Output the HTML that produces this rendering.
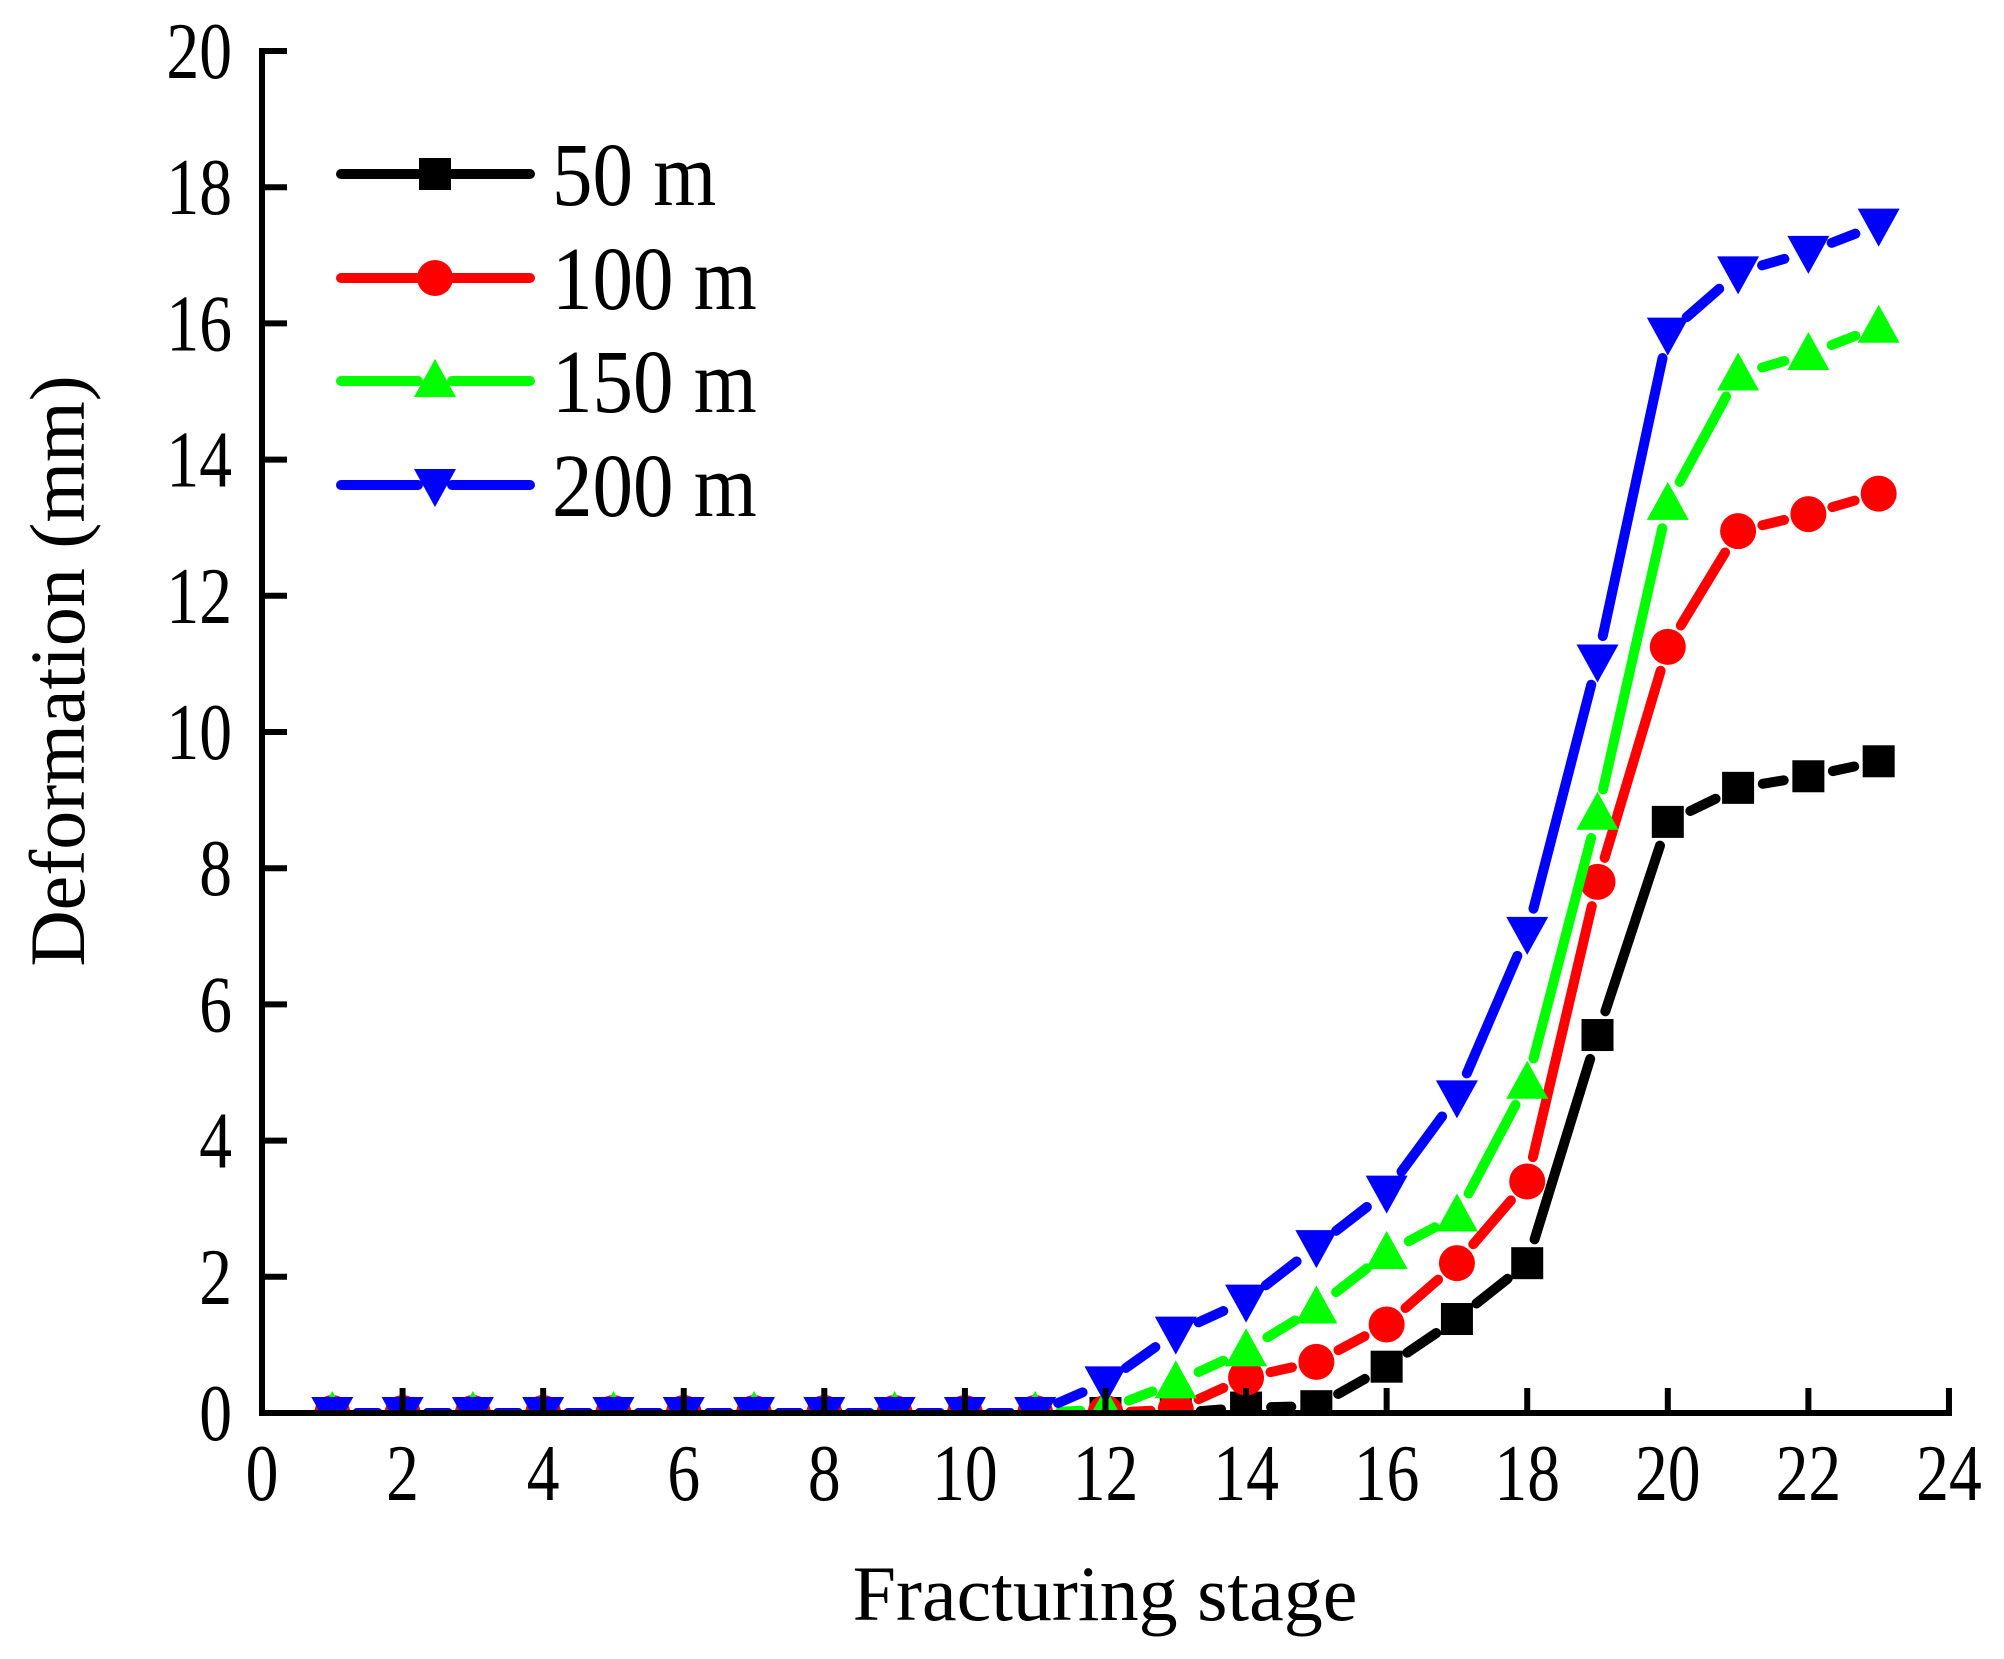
<!DOCTYPE html>
<html><head><meta charset="utf-8">
<style>
html,body{margin:0;padding:0;background:#fff;}
svg{display:block;font-family:"Liberation Serif",serif;}
</style></head>
<body>
<svg id="c" width="2004" height="1659" viewBox="0 0 2004 1659" xmlns="http://www.w3.org/2000/svg">
<defs><clipPath id="cp"><rect x="262" y="0" width="1700" height="1413"/></clipPath></defs>
<rect width="2004" height="1659" fill="#fff"/>
<g id="plot" clip-path="url(#cp)"></g>
<g stroke="#000" stroke-width="6" fill="none">
<line x1="262" y1="48" x2="262" y2="1416"/>
<line x1="259" y1="1413" x2="1952" y2="1413"/>
</g>
<g id="ticks" stroke="#000" stroke-width="6"></g>
<g id="labels" font-size="80" fill="#000"></g>
<text x="1105" y="1620" font-size="78" text-anchor="middle">Fracturing stage</text>
<text transform="translate(84,671) rotate(-90)" font-size="78" text-anchor="middle">Deformation (mm)</text>
<g id="legend"></g>
</svg>
<script>
const NS="http://www.w3.org/2000/svg";
const X=v=>262+v*70.29, Y=v=>1413-v*68.1;
function el(p,t,a,txt){const e=document.createElementNS(NS,t);for(const k in a)e.setAttribute(k,a[k]);if(txt!==undefined)e.textContent=txt;p.appendChild(e);return e;}
const tk=document.getElementById('ticks'),lb=document.getElementById('labels');
for(let i=0;i<=24;i+=2){el(tk,'line',{x1:X(i),y1:1413,x2:X(i),y2:1388});el(lb,'text',{transform:`translate(${X(i)},1500) scale(0.82,1)`,'text-anchor':'middle'},i);}
for(let i=0;i<=20;i+=2){el(tk,'line',{x1:262,y1:Y(i),x2:287,y2:Y(i)});el(lb,'text',{transform:`translate(232,${Y(i)+27}) scale(0.82,1)`,'text-anchor':'end'},i);}
const z=n=>Array(n).fill(0);
const S=[
 {c:'#000',m:'sq',d:[...z(13),0.08,0.1,0.68,1.38,2.2,5.55,8.68,9.18,9.35,9.57]},
 {c:'#f00',m:'ci',d:[...z(12),0.05,0.52,0.75,1.3,2.2,3.4,7.8,11.25,12.95,13.2,13.5]},
 {c:'#0f0',m:'up',d:[...z(11),0.05,0.45,0.92,1.55,2.35,2.9,4.85,8.8,13.35,15.25,15.55,15.95]},
 {c:'#00f',m:'dn',d:[...z(11),0.45,1.18,1.65,2.45,3.25,4.65,7.05,11.05,15.85,16.75,17.05,17.45]}
];
function marker(g,m,x,y,c){
 if(m==='sq')el(g,'rect',{x:x-16,y:y-16,width:32,height:32,fill:c});
 else if(m==='ci')el(g,'circle',{cx:x,cy:y,r:18,fill:c});
 else if(m==='up')el(g,'polygon',{points:`${x-21},${y+16} ${x+21},${y+16} ${x},${y-22}`,fill:c});
 else el(g,'polygon',{points:`${x-21},${y-16} ${x+21},${y-16} ${x},${y+22}`,fill:c});
}
const pg=document.getElementById('plot');
function seg(g,x1,y1,x2,y2,c,gap){const dx=x2-x1,dy=y2-y1,L=Math.hypot(dx,dy);if(L<2*gap+4)return;const ux=dx/L,uy=dy/L;
 el(g,'line',{x1:x1+ux*gap,y1:y1+uy*gap,x2:x2-ux*gap,y2:y2-uy*gap,stroke:c,'stroke-width':10,'stroke-linecap':'round'});}
S.forEach(s=>{const g=el(pg,'g',{});const P=s.d.map((v,i)=>[X(i+1),Y(v)]);
 for(let i=0;i<P.length-1;i++)seg(g,P[i][0],P[i][1],P[i+1][0],P[i+1][1],s.c,25);
 P.forEach(p=>marker(g,s.m,p[0],p[1],s.c));});
const lg=document.getElementById('legend');
const names=['50 m','100 m','150 m','200 m'],ys=[174,278,381,485];
S.forEach((s,i)=>{const y=ys[i];
 el(lg,'line',{x1:341,y1:y,x2:418,y2:y,stroke:s.c,'stroke-width':10,'stroke-linecap':'round'});
 el(lg,'line',{x1:452,y1:y,x2:530,y2:y,stroke:s.c,'stroke-width':10,'stroke-linecap':'round'});
 marker(lg,s.m,435,y,s.c);
 el(lg,'text',{transform:`translate(552,${y+31}) scale(0.9,1)`,'font-size':90,fill:'#000'},names[i]);});
</script>
</body></html>
